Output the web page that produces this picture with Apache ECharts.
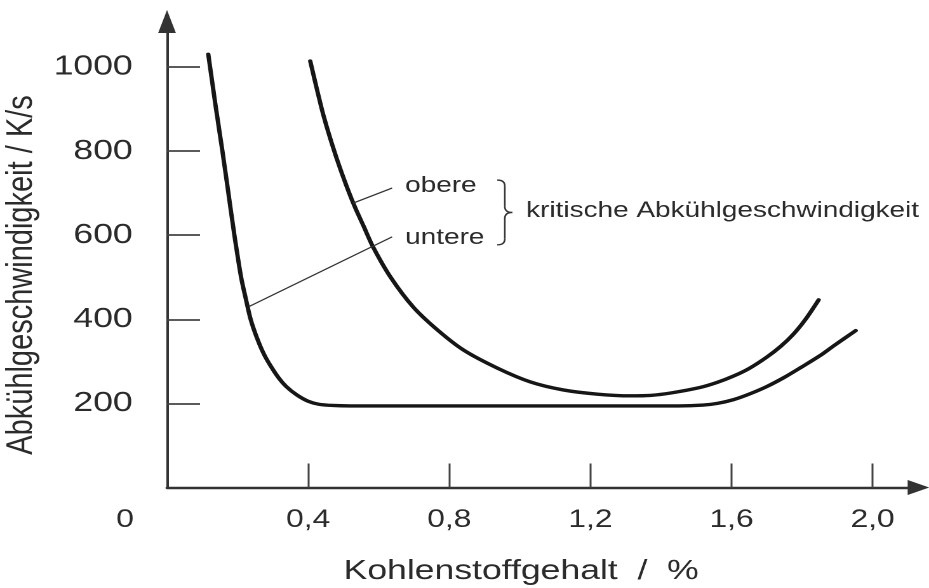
<!DOCTYPE html>
<html><head><meta charset="utf-8">
<script src="https://cdn.jsdelivr.net/npm/echarts@6/dist/echarts.min.js"></script>
<style>
html,body{margin:0;padding:0;background:#fff;overflow:hidden;width:929px;height:588px}
#c{width:731.5px;height:588px;transform:scaleX(1.27);transform-origin:0 0;}
</style>
</head><body><div id="c"></div>
<script>
// ---- data ----
const xTickValues = [0.4, 0.8, 1.2, 1.6, 2.0];
const xLabelValues = [0, 0.4, 0.8, 1.2, 1.6, 2.0];
const xTickLabels = ['0', '0,4', '0,8', '1,2', '1,6', '2,0'];
const yTickValues = [200, 400, 600, 800, 1000];
const yTickLabels = ['200', '400', '600', '800', '1000'];
const xAxisName = 'Kohlenstoffgehalt  /  %';
const yAxisName = 'Abkühlgeschwindigkeit / K/s';

// untere kritische Abkühlgeschwindigkeit
const untere = [[0.117,1030],[0.122,1000],[0.139,900],[0.157,800],[0.174,700],[0.191,600],[0.210,500],[0.223,450],[0.237,400],[0.253,360],[0.273,320],[0.293,290],[0.317,260],[0.338,240],[0.368,220],[0.400,205],[0.430,198],[0.470,195],[0.520,194],[0.700,194],[0.900,194],[1.100,194],[1.300,194],[1.450,194],[1.520,196],[1.560,200],[1.606,209],[1.650,222],[1.700,240],[1.750,262],[1.796,285],[1.850,313],[1.890,337],[1.952,373]];
// obere kritische Abkühlgeschwindigkeit
const obere = [[0.406,1014],[0.424,950],[0.445,880],[0.474,800],[0.503,730],[0.531,670],[0.558,620],[0.584,572],[0.633,501],[0.698,429],[0.766,375],[0.840,327],[0.936,284],[1.030,251],[1.123,232],[1.220,222],[1.313,218],[1.370,219],[1.430,225],[1.512,238],[1.560,250],[1.606,265],[1.650,283],[1.700,310],[1.740,336],[1.776,365],[1.810,400],[1.847,446]];

// annotations (data coordinates)
const obereLeader = [[0.527,676],[0.638,712]];
const untereLeader = [[0.232,430],[0.638,596]];
const obereLabel = ['obere', 0.675, 717];
const untereLabel = ['untere', 0.675, 593];
const braceBox = [0.936, 0.979, 577, 731]; // xLeft, xTip, yBottom, yTop
const kritLabel = ['kritische Abkühlgeschwindigkeit', 1.018, 657];

const FONT = '"Liberation Sans", Arial, Helvetica, sans-serif';
const TXT = '#2b2b2b';
const AX = '#333';

const chart = echarts.init(document.getElementById('c'), null, {renderer: 'canvas', devicePixelRatio: 2});

chart.setOption({
  animation: false,
  backgroundColor: '#fff',
  grid: {left: 131.5, right: 8.8, top: 21.5, bottom: 100.5, containLabel: false, outerBoundsMode: 'none'},
  xAxis: {
    type: 'value', min: 0, max: 2.13,
    name: xAxisName, nameLocation: 'middle', nameGap: 70,
    nameTextStyle: {fontFamily: FONT, fontSize: 28, color: TXT, padding: [0, 34, 0, 0]},
    axisLine: {show: true, symbol: ['none', 'triangle'], symbolSize: [15, 17], lineStyle: {color: AX, width: 2.4}},
    axisTick: {show: true, inside: true, length: 24, customValues: xTickValues, lineStyle: {color: '#444', width: 1.5}},
    axisLabel: {
      show: true, customValues: xLabelValues, margin: 20,
      fontFamily: FONT, fontSize: 25, color: TXT,
      formatter: function (v) {
        const i = xLabelValues.findIndex(function (t) { return Math.abs(t - v) < 1e-6; });
        if (i < 0) return '';
        return i === 0 ? '{o|' + xTickLabels[i] + '}' : xTickLabels[i];
      },
      rich: {o: {fontFamily: FONT, fontSize: 25, color: TXT, padding: [0, 66, 0, 0]}}
    },
    splitLine: {show: false}
  },
  yAxis: {
    type: 'value', min: 0, max: 1108,
    name: yAxisName, nameLocation: 'middle', nameGap: 88,
    nameTextStyle: {fontFamily: FONT, fontSize: 29, color: TXT, padding: [0, 41, 0, 0]},
    axisLine: {show: true, symbol: ['none', 'triangle'], symbolSize: [14, 23], lineStyle: {color: AX, width: 2}},
    axisTick: {show: true, inside: true, length: 26, customValues: yTickValues, lineStyle: {color: '#444', width: 1.8}},
    axisLabel: {
      show: true, customValues: yTickValues, margin: 27,
      fontFamily: FONT, fontSize: 28, color: TXT,
      formatter: function (v) {
        const i = yTickValues.findIndex(function (t) { return Math.abs(t - v) < 1e-6; });
        return i < 0 ? '' : yTickLabels[i];
      }
    },
    splitLine: {show: false}
  },
  series: [
    {
      name: 'untere', type: 'line', data: untere, smooth: 0.3, showSymbol: false, symbol: 'none',
      lineStyle: {color: '#161616', width: 3.4, cap: 'round', join: 'round'}, z: 3,
      markLine: {
        silent: true, symbol: 'none', label: {show: false},
        lineStyle: {color: '#333', width: 1.2, type: 'solid'},
        data: [
          [{coord: obereLeader[0]}, {coord: obereLeader[1]}],
          [{coord: untereLeader[0]}, {coord: untereLeader[1]}]
        ]
      }
    },
    {
      name: 'obere', type: 'line', data: obere, smooth: 0.3, showSymbol: false, symbol: 'none',
      lineStyle: {color: '#161616', width: 3.4, cap: 'round', join: 'round'}, z: 3
    }
  ]
});

function px(x, y) { return chart.convertToPixel({gridIndex: 0}, [x, y]); }

const pO = px(obereLabel[1], obereLabel[2]);
const pU = px(untereLabel[1], untereLabel[2]);
const pK = px(kritLabel[1], kritLabel[2]);
const bL = px(braceBox[0], braceBox[3]);
const bB = px(braceBox[0], braceBox[2]);
const bT = px(braceBox[1], (braceBox[2] + braceBox[3]) / 2);
const x0 = bL[0], yT = bL[1], yB = bB[1], xt = bT[0], ym = bT[1];
const xm = x0 + (xt - x0) * 0.5;
const r = 6;
const braceStyle = {fill: 'none', stroke: '#333', lineWidth: 1.3};

chart.setOption({
  graphic: [
    {type: 'text', silent: true, style: {text: obereLabel[0], x: pO[0], y: pO[1], fontFamily: FONT, fontSize: 22, fill: TXT, textAlign: 'left', textVerticalAlign: 'middle'}},
    {type: 'text', silent: true, style: {text: untereLabel[0], x: pU[0], y: pU[1], fontFamily: FONT, fontSize: 22, fill: TXT, textAlign: 'left', textVerticalAlign: 'middle'}},
    {type: 'text', silent: true, style: {text: kritLabel[0], x: pK[0], y: pK[1], fontFamily: FONT, fontSize: 22, fill: TXT, textAlign: 'left', textVerticalAlign: 'middle'}},
    {type: 'bezierCurve', silent: true, shape: {x1: x0, y1: yT, cpx1: xm, cpy1: yT, x2: xm, y2: yT + r}, style: braceStyle},
    {type: 'line', silent: true, shape: {x1: xm, y1: yT + r, x2: xm, y2: ym - r}, style: braceStyle},
    {type: 'bezierCurve', silent: true, shape: {x1: xm, y1: ym - r, cpx1: xm, cpy1: ym, x2: xt, y2: ym}, style: braceStyle},
    {type: 'bezierCurve', silent: true, shape: {x1: xt, y1: ym, cpx1: xm, cpy1: ym, x2: xm, y2: ym + r}, style: braceStyle},
    {type: 'line', silent: true, shape: {x1: xm, y1: ym + r, x2: xm, y2: yB - r}, style: braceStyle},
    {type: 'bezierCurve', silent: true, shape: {x1: xm, y1: yB - r, cpx1: xm, cpy1: yB, x2: x0, y2: yB}, style: braceStyle}
  ]
});
</script>
</body></html>
